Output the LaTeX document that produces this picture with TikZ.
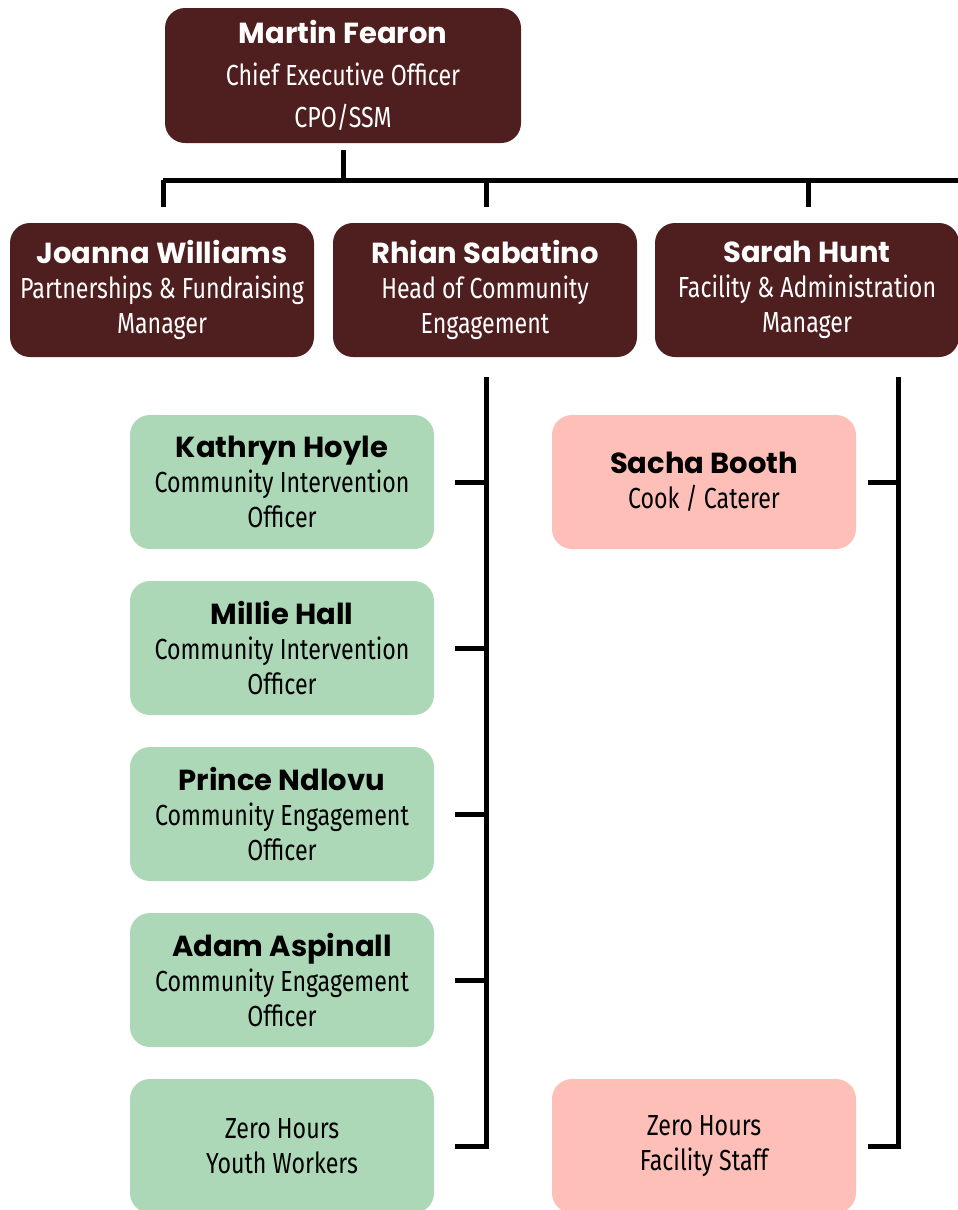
\documentclass[tikz,border=0pt]{standalone}
\usepackage{fontspec}
\usepackage{tikz}
\usetikzlibrary{positioning}
\setmainfont{Fira Sans}[FakeStretch=0.80]
\newfontfamily\namefont{Poppins}
\definecolor{maroon}{HTML}{4F1E1E}
\definecolor{mint}{HTML}{ACD8B8}
\definecolor{salmon}{HTML}{FDBFB7}
\newcommand*{\staffX}[5]{%
  \node [ staff, #3 ] (#1) at (#2) {%
    {\namefont\bfseries\fontsize{29}{35}\selectfont #4}\\ #5
  };
}
\newcommand*{\poolX}[4]{%
  \node [ staff, #3 ] (#1) at (#2) {%
    #4
  };
}

\begin{document}
\begin{tikzpicture}[x=1pt, y=-1pt,
    every node/.style={font=\fontsize{29}{35}\selectfont},
    staff/.style={rectangle, rounded corners=20pt, align=center,
                  minimum width=304pt, minimum height=134pt, inner sep=0pt},
    head/.style={staff, fill=maroon, text=white},
    team/.style={staff, fill=mint, text=black},
    site/.style={staff, fill=salmon, text=black},
    link/.style={line width=5pt}]
\useasboundingbox (0,0) rectangle (958,1210);

\node [head, minimum width=356pt, minimum height=135pt] (ceo) at (343,75.5) {%
  {\namefont\bfseries\fontsize{29}{35}\selectfont Martin Fearon}\\[7pt]
  Chief Executive Officer\\[7pt] CPO/SSM};
%
\staffX{joanna}{162,290}{head}{Joanna Williams}{Partnerships \& Fundraising\\ Manager}
\staffX{rhian}{485,290}{head}{Rhian Sabatino}{Head of Community\\ Engagement}
\staffX{sarah}{807,290}{head}{Sarah Hunt}{Facility \& Administration\\ Manager}
%
\staffX{kathryn}{282,482}{team}{Kathryn Hoyle}{Community Intervention\\ Officer}
\staffX{millie}{282,648}{team}{Millie Hall}{Community Intervention\\ Officer}
\staffX{prince}{282,814}{team}{Prince Ndlovu}{Community Engagement\\ Officer}
\staffX{adam}{282,980}{team}{Adam Aspinall}{Community Engagement\\ Officer}
\poolX{youth}{282,1146}{team}{Zero Hours\\ Youth Workers}
%
\staffX{sacha}{704,482}{site}{Sacha Booth}{Cook / Caterer}
\poolX{facility}{704,1146}{site}{Zero Hours\\ Facility Staff}
%
\coordinate (bus) at (343,180);
\coordinate (sarahline) at (898,357);
\draw[link, shorten <=7pt] (ceo.south) -- (bus);
\draw[link] (163,180) -- (958,180);
\draw[link, shorten >=16pt] (163,180) -- (163,223);
\draw[link, shorten >=16pt] (486,180) -- (486,223);
\draw[link, shorten >=16pt] (808,180) -- (808,223);
%
\draw[link, shorten <=20pt, shorten >=21pt] (486,357) |- (youth.east);
\foreach \n in {kathryn,millie,prince,adam}
  \draw[link, shorten <=21pt] (\n.east) -- (\n.east -| 486,0);
\draw[link, shorten <=20pt, shorten >=12pt] (sarahline) |- (facility.east);
\draw[link, shorten <=12pt] (sacha.east) -- (sacha.east -| sarahline);
\end{tikzpicture}
\end{document}
